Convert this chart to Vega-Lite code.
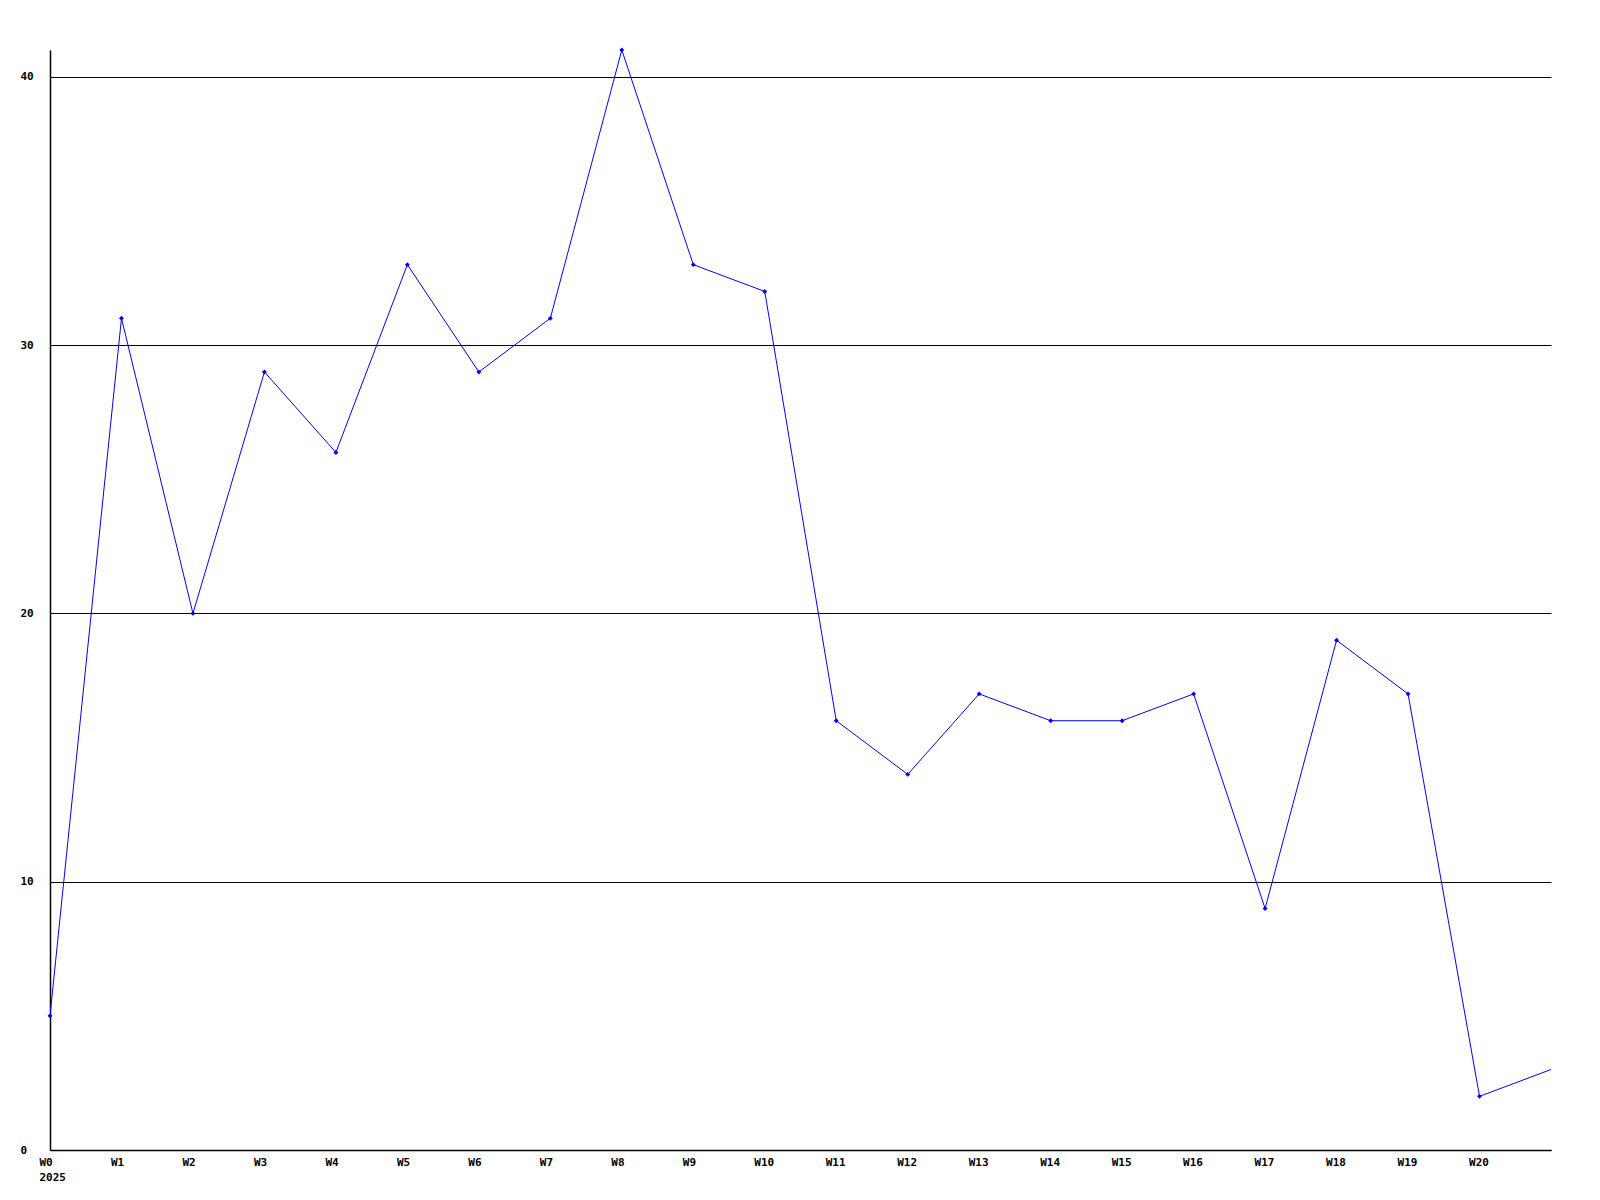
{
  "$schema": "https://vega.github.io/schema/vega-lite/v6.json",
  "width": 1501,
  "height": 1100,
  "autosize": {"type": "none"},
  "padding": {"left": 50, "top": 50, "right": 49, "bottom": 50},
  "background": "white",
  "config": {
    "view": {"stroke": null},
    "axis": {"labelFont": "DejaVu Sans Mono", "labelFontWeight": "bold", "labelFontSize": 11, "labelColor": "black", "domainColor": "black", "domainWidth": 1.5, "ticks": false, "title": null}
  },
  "data": {"values": [
    {"week": 0, "value": 5}, {"week": 1, "value": 31}, {"week": 2, "value": 20}, {"week": 3, "value": 29},
    {"week": 4, "value": 26}, {"week": 5, "value": 33}, {"week": 6, "value": 29}, {"week": 7, "value": 31},
    {"week": 8, "value": 41}, {"week": 9, "value": 33}, {"week": 10, "value": 32}, {"week": 11, "value": 16},
    {"week": 12, "value": 14}, {"week": 13, "value": 17}, {"week": 14, "value": 16}, {"week": 15, "value": 16},
    {"week": 16, "value": 17}, {"week": 17, "value": 9}, {"week": 18, "value": 19}, {"week": 19, "value": 17},
    {"week": 20, "value": 2}, {"week": 21, "value": 3}
  ]},
  "encoding": {
    "x": {"field": "week", "type": "quantitative", "scale": {"domain": [0, 21], "nice": false, "zero": false},
      "axis": {"values": [0,1,2,3,4,5,6,7,8,9,10,11,12,13,14,15,16,17,18,19,20], "grid": false, "labelAlign": "left", "labelOffset": -11, "labelPadding": 6, "labelBaseline": "top", "labelLineHeight": 15,
        "labelExpr": "datum.value == 0 ? ['W0', '2025'] : 'W' + datum.value"}},
    "y": {"field": "value", "type": "quantitative", "scale": {"domain": [0, 41], "nice": false},
      "axis": {"values": [0, 10, 20, 30, 40], "grid": true, "gridColor": "black", "gridOpacity": 1, "gridWidth": 1, "labelAlign": "left", "labelPadding": 30, "labelBaseline": "middle"}}
  },
  "layer": [
    {"mark": {"type": "line", "color": "#0000FF", "strokeWidth": 1, "clip": true}},
    {"transform": [{"filter": "datum.week <= 20"}], "mark": {"type": "point", "shape": "diamond", "filled": true, "color": "#0000FF", "size": 24, "opacity": 1}}
  ]
}
